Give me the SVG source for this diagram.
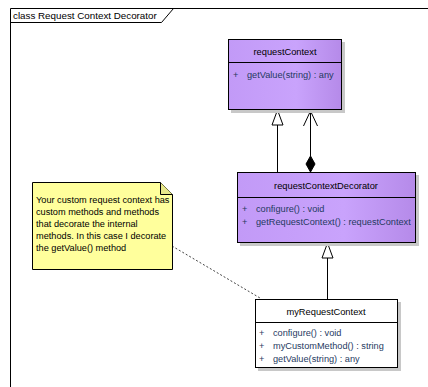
<svg xmlns="http://www.w3.org/2000/svg" width="428" height="387" viewBox="0 0 428 387">
<style>
text{font-family:"Liberation Sans",Arial,sans-serif;font-size:9.2px;fill:#000}
.hdr{text-anchor:middle;font-size:9.3px}
.mem{fill:#1f3a5f}
.ttl{font-size:9.8px}
.box{stroke:#000;stroke-width:1}
.shadow{fill:#c8c8c8}
.line{stroke:#000;stroke-width:1;fill:none}
</style>
<defs>
<linearGradient id="purp" x1="0" y1="0" x2="1" y2="0">
<stop offset="0" stop-color="#c29af7"/>
<stop offset="0.6" stop-color="#c9a3fc"/>
<stop offset="1" stop-color="#b58ae9"/>
</linearGradient>
</defs>
<rect width="428" height="387" fill="#fff"/>
<g id="frame">
<path class="line" d="M10.5 387 V8.5 H428" stroke="#333"/>
<path class="line" d="M10.5 22.5 H161.5 L173.5 8.5" stroke="#333"/>
<text class="ttl" x="13" y="19">class Request Context Decorator</text>
</g>
<g id="connectors">
<line class="line" x1="277.5" y1="125" x2="277.5" y2="172"/>
<polygon points="277.5,110 272,125 283,125" fill="#fff" stroke="#000"/>
<line class="line" x1="310.5" y1="111" x2="310.5" y2="156"/>
<polyline class="line" points="303.5,126 310.5,111 317.5,126"/>
<polygon points="310.5,156 315,164 310.5,172 306,164" fill="#000" stroke="#000"/>
<line class="line" x1="327.5" y1="258" x2="327.5" y2="299"/>
<polygon points="327.5,243 322,258 333,258" fill="#fff" stroke="#000"/>
<line x1="172" y1="246" x2="260" y2="298" stroke="#444" stroke-width="1" stroke-dasharray="2,2"/>
</g>
<g id="requestContext">
<rect class="shadow" x="231" y="42" width="114" height="71"/>
<rect class="box" x="228.5" y="39.5" width="113" height="70" fill="url(#purp)"/>
<line class="line" x1="228.5" y1="62.5" x2="341.5" y2="62.5"/>
<text class="hdr" x="285" y="55">requestContext</text>
<text class="mem" x="233" y="78">+</text>
<text class="mem" x="247" y="78">getValue(string) : any</text>
</g>
<g id="requestContextDecorator">
<rect class="shadow" x="240" y="175" width="179" height="71"/>
<rect class="box" x="237.5" y="172.5" width="178" height="70" fill="url(#purp)"/>
<line class="line" x1="237.5" y1="197.5" x2="415.5" y2="197.5"/>
<text class="hdr" x="326" y="189">requestContextDecorator</text>
<text class="mem" x="242" y="212">+</text>
<text class="mem" x="256" y="212">configure() : void</text>
<text class="mem" x="242" y="225">+</text>
<text class="mem" x="256" y="225">getRequestContext() : requestContext</text>
</g>
<g id="myRequestContext">
<rect class="shadow" x="258" y="302" width="143" height="69"/>
<rect class="box" x="255.5" y="299.5" width="142" height="68" fill="#fff"/>
<line class="line" x1="255.5" y1="322.5" x2="397.5" y2="322.5"/>
<text class="hdr" x="326" y="315">myRequestContext</text>
<text class="mem" x="259" y="336">+</text>
<text class="mem" x="273" y="336">configure() : void</text>
<text class="mem" x="259" y="349">+</text>
<text class="mem" x="273" y="349">myCustomMethod() : string</text>
<text class="mem" x="259" y="362">+</text>
<text class="mem" x="273" y="362">getValue(string) : any</text>
</g>
<g id="note">
<path d="M32.5 182.5 H160.5 L172.5 194.5 V269.5 H32.5 Z" fill="#ffff9c" stroke="#000"/>
<path d="M160.5 182.5 V194.5 H172.5" fill="#e8e88a" stroke="#000"/>
<text x="36" y="203">Your custom request context has</text>
<text x="36" y="215">custom methods and methods</text>
<text x="36" y="227">that decorate the internal</text>
<text x="36" y="239">methods. In this case I decorate</text>
<text x="36" y="251">the getValue() method</text>
</g>
</svg>
